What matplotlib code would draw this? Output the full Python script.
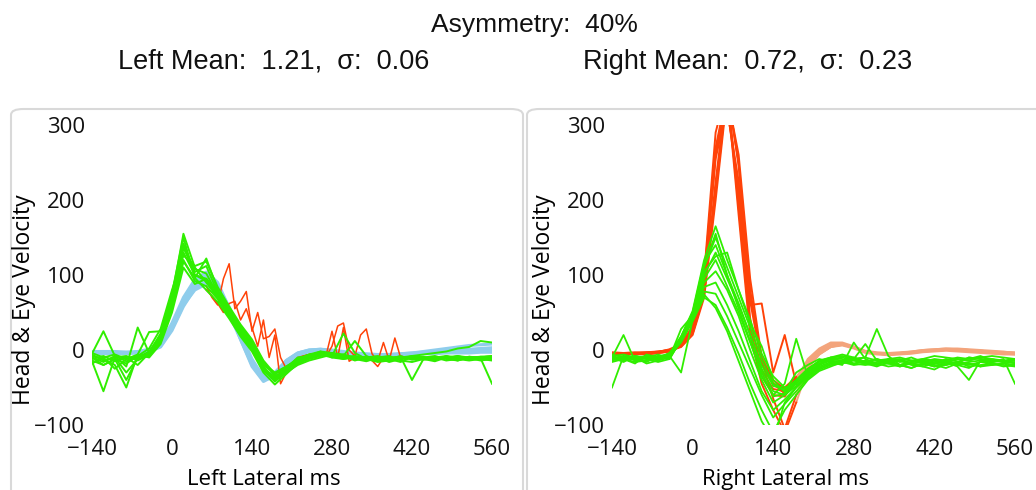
import matplotlib
matplotlib.use("Agg")
import matplotlib.pyplot as plt
from matplotlib.patches import FancyBboxPatch

# sample times (ms) shared by all traces
t_ms = [-140, -120, -100, -80, -60, -40, -20, 0, 20, 40, 60, 80, 100, 120, 140, 160, 180, 200,
        220, 240, 260, 280, 300, 320, 340, 360, 380, 400, 420, 440, 460, 480, 500, 520, 540, 560]
# finer times for the oscillating red traces in the left panel
t_fine = [60, 70, 80, 90, 100, 110, 120, 130, 140, 150, 160, 170, 180, 190, 200, 210, 220, 230,
          240, 250, 260, 270, 280, 290, 300, 310, 320, 330, 340, 350, 360, 370, 380, 390, 400, 410, 420]

x_ticks = [-140, 0, 140, 280, 420, 560]
y_ticks = [-100, 0, 100, 200, 300]

asym_pct = 40
left_mean, left_sd = 1.21, 0.06
right_mean, right_sd = 0.72, 0.23

# ---- left lateral: head (blue) ----
LB1 = [-2, -3, -3, -4, -3, -1, 6, 30, 62, 86, 96, 82, 52, 16, -18, -38, -32, -16,
       -6, -1, 0, -2, -4, -6, -7, -7, -6, -5, -4, -2, 0, 2, 4, 6, 7, 8]
LB2 = [-4, -4, -5, -5, -4, -2, 4, 26, 58, 82, 92, 84, 58, 22, -12, -36, -36, -20,
       -8, -2, 0, -1, -3, -5, -6, -7, -7, -6, -5, -4, -3, -2, -1, 0, 1, 2]
LB3 = [-3, -2, -2, -3, -3, 0, 8, 34, 66, 90, 100, 86, 54, 14, -22, -42, -34, -14,
       -4, 0, 1, -1, -4, -6, -8, -8, -7, -6, -5, -4, -4, -3, -3, -2, -2, -2]
LB4 = [-5, -5, -4, -4, -3, -1, 5, 28, 60, 80, 88, 76, 48, 14, -20, -40, -36, -18,
       -6, -2, -1, -3, -5, -7, -8, -9, -8, -7, -6, -5, -5, -4, -4, -4, -3, -3]
LB5 = [-2, -2, -3, -3, -2, 1, 9, 36, 70, 94, 104, 90, 56, 18, -16, -34, -30, -14,
       -4, 0, 1, 0, -2, -4, -5, -6, -6, -5, -4, -3, -2, -1, 0, 1, 2, 3]

# ---- left lateral: red traces ----
LR1 = [85, 70, 60, 95, 115, 55, 65, 78, 25, 50, 15, 18, 28, -10, -25, -20, -12, -8,
       -6, -5, -5, -8, 5, 32, 36, 0, -8, 20, 28, -5, -15, 10, -14, 16, -10, -12, -10]
LR2 = [80, 72, 62, 50, 62, 65, 40, 55, 30, 5, 40, -10, 20, -45, -30, -18, -10, -8,
       -6, -5, -4, -6, 25, -10, 30, -15, -10, -12, -8, -14, -22, -10, -12, -10, -8, -10, -10]

# ---- left lateral: eye (green) ----
LG1 = [-10, -20, -12, -18, -8, -5, 15, 60, 130, 100, 95, 72, 48, 24, 4, -24, -36, -26,
       -16, -10, -6, -8, -10, -12, -9, -11, -14, -12, -10, -13, -11, -9, -12, -10, -11, -12]
LG2 = [-5, 25, -8, -15, -10, -2, 20, 72, 155, 110, 90, 70, 50, 28, 6, -20, -32, -22,
       -12, -6, -4, -6, -8, -14, -10, -8, -12, -16, -9, -10, -14, -8, -10, -12, -9, -10]
LG3 = [-15, -55, -10, -30, -12, -8, 10, 55, 118, 96, 122, 80, 55, 30, 8, -22, -40, -28,
       -14, -8, -2, -10, -6, -12, -15, -10, -12, -8, -13, -11, -10, -14, -12, -9, -11, -45]
LG4 = [-8, -12, -20, -50, -6, 24, 25, 68, 142, 104, 112, 76, 46, 20, 0, -28, -38, -24,
       -10, -8, -5, -8, 22, -4, -12, -10, -16, -12, -8, -10, -12, -10, -8, -12, -10, -8]
LG5 = [-12, -8, -15, -10, -20, -4, 12, 58, 120, 92, 85, 68, 44, 22, 2, -26, -42, -30,
       -18, -12, -8, -6, -10, -8, -14, -12, -10, -9, -40, -12, -10, -8, -13, -11, -14, -12]
LG6 = [-6, -14, -10, -8, -14, -6, 18, 64, 136, 108, 102, 74, 52, 26, 10, -18, -30, -22,
       -14, -10, -6, -4, -8, -10, -12, -14, -12, -10, -8, -6, -4, -2, 2, 4, 12, 10]
LG7 = [-18, -10, -25, -12, -6, -10, 8, 50, 110, 88, 95, 78, 54, 32, 12, -16, -34, -30,
       -20, -14, -10, -6, -8, 12, -8, -14, -10, -12, -10, -9, -12, -10, -14, -9, -10, -12]
LG8 = [-10, -16, -8, -22, 30, -4, 22, 76, 150, 96, 80, 64, 42, 18, -2, -30, -46, -32,
       -18, -10, -4, -8, -12, -10, -12, -16, -14, -11, -10, -12, -15, -10, -12, -14, -12, -14]
LG9 = [-4, -10, -6, -12, -8, 2, 28, 80, 126, 112, 118, 84, 58, 34, 14, -14, -32, -24,
       -12, -6, -2, -4, -6, -10, -12, -10, -8, -14, -16, -12, -10, -11, -8, -10, -9, -8]
LG10 = [-14, -20, -12, -40, -10, -6, 14, 62, 138, 100, 92, 70, 48, 22, 4, -24, -38, -26,
        -16, -10, -6, -10, -12, -8, -10, -12, -14, -10, -12, -10, -8, -12, -14, -10, -12, -10]

# ---- right lateral: head (red) ----
RR1 = [-4, -5, -4, -3, -2, 0, 6, 28, 90, 260, 340, 205, 42, -28, -52, -55, -38, -14,
       0, 8, 9, 4, -2, -4, -5, -4, -3, -1, 0, 1, 0, -1, -2, -3, -3, -4]
RR2 = [-6, -6, -5, -5, -4, -1, 4, 20, 70, 200, 340, 260, 95, -10, -45, -58, -42, -18,
       -3, 5, 7, 3, -3, -5, -6, -5, -3, -2, 0, 1, 1, 0, -1, -2, -4, -5]
RR3 = [-3, -4, -4, -3, -3, 1, 8, 32, 100, 290, 350, 190, 30, -35, -60, -62, -40, -12,
       2, 10, 10, 5, -1, -3, -4, -3, -2, 0, 1, 2, 1, 0, -1, -2, -3, -3]
RR4 = [-5, -5, -6, -5, -4, -2, 5, 22, 76, 225, 350, 245, 75, -10, -40, -52, -40, -20,
       -5, 4, 6, 2, -4, -6, -7, -6, -5, -3, -2, -1, -2, -3, -4, -5, -6, -6]
RR5 = [-4, -4, -3, -4, -3, 0, 7, 30, 96, 270, 345, 180, 20, -45, -80, -110, -70, -25,
       -6, 4, 8, 4, -2, -4, -5, -4, -2, 0, 1, 2, 2, 1, 0, -1, -2, -4]
RR6 = [-5, -4, -5, -4, -3, -1, 6, 26, 88, 255, 325, 210, 60, 62, -30, 20, -45, -22,
       -6, 4, 7, 3, -3, -5, -6, -5, -4, -2, -1, 0, 0, -1, -2, -3, -4, -5]
RR7 = [-4, -5, -5, -4, -2, 0, 5, 22, 74, 210, 345, 250, 80, -15, -65, -105, -60, -20,
       -4, 6, 8, 4, -2, -4, -5, -4, -3, -1, 0, 1, 1, 0, -1, -2, -3, -4]
RR8 = [-6, -5, -5, -6, -4, -2, 6, 27, 92, 265, 320, 225, 65, -18, -45, -50, -36, -16,
       -2, 6, 8, 3, -2, -5, -6, -5, -4, -2, -1, 0, 0, -1, -2, -4, -5, -6]

# ---- right lateral: eye (green) ----
RG1 = [-50, -8, -12, -10, -14, -6, 18, 52, 120, 165, 120, 80, 40, -5, -35, -50, -45, -30,
       -18, -12, -14, -10, -16, -12, -18, -14, -10, -16, -12, -14, -18, -10, -12, -16, -14, -12]
RG2 = [-10, 20, -15, -8, -12, -4, 16, 48, 110, 150, 110, 70, 30, -12, -45, -55, -40, -25,
       -15, -10, -12, -18, -14, -20, -12, -16, -14, -18, -22, -16, -12, -14, -10, -12, -16, -14]
RG3 = [-12, -14, -10, -16, -8, -10, 28, 46, 100, 130, 95, 60, 20, -25, -55, -60, -45, -30,
       -20, -14, -16, -12, -10, 28, -8, -20, -16, -14, -18, -12, -15, -20, -16, -12, -14, -18]
RG4 = [-8, -12, -18, -6, -10, -8, -30, 40, 95, 120, 85, 50, 10, -30, -62, -58, -42, -28,
       -16, -12, -10, -14, -18, -16, -14, -12, -18, -20, -14, -16, -22, -40, -14, -16, -12, -45]
RG5 = [-14, -10, -8, -12, -16, -12, 14, 44, 90, 105, 80, 45, 0, -40, -70, -60, -48, -32,
       -22, -16, -14, -12, -16, -20, -18, -22, -16, -14, -18, -20, -16, -18, -22, -20, -18, -16]
RG6 = [-6, -10, -12, -14, -8, -6, 12, 42, 84, 90, 60, 25, -15, -55, -80, -66, -50, -34,
       -24, -18, -15, -12, 8, -14, -18, -20, -24, -18, -16, -14, -10, -12, -8, -14, -16, -12]
RG7 = [-10, -16, -8, -12, -10, -4, 16, 40, 78, 75, 45, 10, -25, -60, -90, -72, -55, -38,
       -26, -20, -18, -14, -16, -12, -16, -22, -18, -16, -20, -24, -18, -16, -14, -20, -18, -20]
RG8 = [-12, -8, -14, -10, -12, -8, 10, 38, 70, 60, 30, -5, -45, -80, -110, -80, -60, -40,
       -28, -22, -16, -18, -20, -18, -22, -20, -24, -18, -22, -20, -16, -22, -20, -18, -22, -20]
RG9 = [-16, -12, -10, -18, -14, -10, 12, 40, 74, 56, 25, -15, -55, -95, -120, -70, -50, -36,
       -24, -18, -16, -20, -18, -22, -16, -20, -18, -22, -26, -18, -20, -24, -16, -18, -20, -22]
RG10 = [-8, -6, -10, -8, -12, -6, 18, 50, 116, 140, 100, 62, 20, -20, -48, -52, -40, -26,
        -14, -10, -8, -12, -10, -14, -12, -10, -14, -12, -8, -10, -12, -14, -10, -8, -10, -12]
RG11 = [-10, -12, -16, -14, -10, -8, 14, 46, 104, 125, 130, 80, 35, 5, -40, -56, -30, -20,
        -12, -16, -20, 10, -12, -18, -16, -14, -20, -22, -18, -16, -20, -18, -22, -16, -14, -18]
RG12 = [-12, -14, -8, -10, -6, -12, 15, 48, 112, 155, 100, 55, 12, -35, -60, -45, 15, -35,
        -20, -10, -6, -10, -16, -18, -14, -20, -16, -12, -14, -18, -16, -10, -12, -14, -16, -14]

left_head = [LB1, LB2, LB3, LB4, LB5]
left_red = [LR1, LR2]
left_eye = [LG1, LG2, LG3, LG4, LG5, LG6, LG7, LG8, LG9, LG10]
right_head = [RR1, RR2, RR3, RR4, RR5, RR6, RR7, RR8]
right_eye = [RG1, RG2, RG3, RG4, RG5, RG6, RG7, RG8, RG9, RG10, RG11, RG12]

GREEN = "#30ee00"
BLUE = "#8fcdec"
RED = "#ff4208"
SALMON = "#f3a47c"
TICK_FONT = "Open Sans"
TITLE_FONT = "Liberation Sans"

fig = plt.figure(figsize=(10.36, 4.9), dpi=100)

# rounded panel frames, kept behind the axes
for x0, x1 in [(11, 523), (527, 1060)]:
    box = FancyBboxPatch((x0 / 1036, -0.1), (x1 - x0) / 1036, 0.1 + (490 - 109) / 490,
                         boxstyle="round,pad=0,rounding_size=0.012",
                         transform=fig.transFigure, facecolor="white",
                         edgecolor="#d9d9d9", linewidth=1.5, zorder=-5)
    fig.patches.append(box)


def style_axes(ax, xlabel):
    ax.set_xlim(-140, 560)
    ax.set_ylim(-100, 300)
    ax.set_xticks(x_ticks)
    ax.set_yticks(y_ticks)
    ax.patch.set_alpha(0)
    for s in ax.spines.values():
        s.set_visible(False)
    ax.tick_params(axis="both", length=0, labelsize=16, colors="#111111")
    ax.tick_params(axis="x", pad=10)
    ax.tick_params(axis="y", pad=5)
    for lab in ax.get_xticklabels() + ax.get_yticklabels():
        lab.set_family(TICK_FONT)
    ax.set_ylabel("Head & Eye Velocity", fontsize=16.5, family=TICK_FONT)
    ax.yaxis.set_label_coords(-0.14, 0.417)
    ax.set_xlabel(xlabel, fontsize=16, family=TICK_FONT)
    ax.xaxis.set_label_coords(0.43, -0.145)


# left panel
axL = fig.add_axes([92 / 1036, 65 / 490, 400 / 1036, 300 / 490])
for tr in left_head:
    axL.plot(t_ms, tr, color=BLUE, lw=2.2)
for tr in left_red:
    axL.plot(t_fine, tr, color=RED, lw=1.1)
for tr in left_eye:
    axL.plot(t_ms, tr, color=GREEN, lw=1.4)
style_axes(axL, "Left Lateral ms")

# right panel: head traces faded after the impulse, eye traces on top
axR = fig.add_axes([612 / 1036, 65 / 490, 403 / 1036, 300 / 490])
cut = t_ms.index(180)
for tr in right_head:
    axR.plot(t_ms[cut:], tr[cut:], color=SALMON, lw=1.4)
for tr in right_head:
    axR.plot(t_ms[:cut + 1], tr[:cut + 1], color=RED, lw=1.4)
for tr in right_eye:
    axR.plot(t_ms, tr, color=GREEN, lw=1.3)
style_axes(axR, "Right Lateral ms")

fig.text(0.516, 1 - 25 / 490, f"Asymmetry:  {asym_pct}%", ha="center", va="center",
         fontsize=19, family=TITLE_FONT, color="#111111")
fig.text(118 / 1036, 1 - 62 / 490, f"Left Mean:  {left_mean:.2f},  σ:  {left_sd:.2f}",
         ha="left", va="center", fontsize=19.5, family=TITLE_FONT, color="#111111")
fig.text(583 / 1036, 1 - 62 / 490, f"Right Mean:  {right_mean:.2f},  σ:  {right_sd:.2f}",
         ha="left", va="center", fontsize=19.5, family=TITLE_FONT, color="#111111")

fig.savefig("out.png", dpi=100, facecolor="white")
